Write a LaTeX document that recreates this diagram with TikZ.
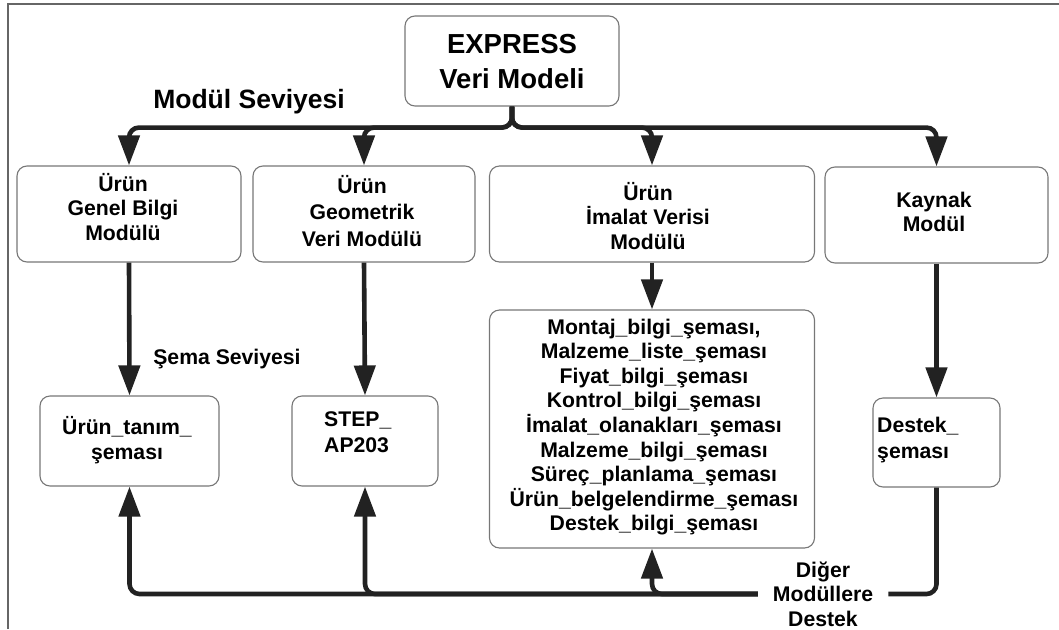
\documentclass[tikz,border=0pt]{standalone}
\usepackage{fontspec}
\setmainfont{Liberation Sans}
\usetikzlibrary{arrows.meta}
\definecolor{ink}{HTML}{222222}
\definecolor{boxline}{HTML}{777777}
\definecolor{framegray}{HTML}{666666}
\begin{document}
\begin{tikzpicture}[x=1pt,y=-1pt,
  box/.style={draw=boxline, line width=1.1pt, rounded corners=10pt, inner sep=0pt},
  txt/.style={align=center, inner sep=0pt, text=black,
    font=\fontsize{21.2}{24.4}\selectfont\bfseries},
  ltxt/.style={txt, align=left, anchor=west},
  bus/.style={draw=ink, line width=4.6pt, rounded corners=10pt},
  tip/.style={-{Triangle[length=30pt,width=21pt]}}]
\useasboundingbox (0,0) rectangle (1059,629);
% outer frame (top and left edges)
\draw[framegray, line width=2pt] (8,629) -- (8,4) -- (1059,4);

% top: data model
\node[box, minimum width=214pt, minimum height=90pt] (ex) at (512,61) {};
\node[txt, font=\fontsize{27.5}{35}\selectfont\bfseries] (ext) at (512,62) {EXPRESS\\Veri Modeli};
\node[txt, font=\fontsize{26.5}{30}\selectfont\bfseries] (modlev) at (249,102) {Modül Seviyesi};

% module level
\node[box, minimum width=224pt, minimum height=96pt] (b1) at (129,214) {};
\node[box, minimum width=222pt, minimum height=96pt] (b2) at (364,214) {};
\node[box, minimum width=325pt, minimum height=96pt] (b3) at (652,214) {};
\node[box, minimum width=223pt, minimum height=96pt] (b4) at (936.5,215) {};
\node[txt] (b1t) at (123,207) {Ürün\\Genel Bilgi\\Modülü};
\node[txt, font=\fontsize{21.2}{26.5}\selectfont\bfseries] (b2t) at (362,211) {Ürün\\Geometrik\\Veri Modülü};
\node[txt] (b3t) at (648,216) {Ürün\\İmalat Verisi\\Modülü};
\node[txt] (b4t) at (934,212) {Kaynak\\Modül};

% schema level
\node[txt] (schlev) at (227,359) {Şema Seviyesi};
\node[box, minimum width=179pt, minimum height=90pt] (b5) at (129.5,441) {};
\node[box, minimum width=146pt, minimum height=90pt] (b6) at (365,441) {};
\node[box, minimum width=325pt, minimum height=238pt] (b7) at (652,429) {};
\node[box, minimum width=127pt, minimum height=89pt] (b8) at (936.5,442.5) {};
\node[txt] (b5t) at (127,440) {Ürün\_tanım\_\\şeması};
\node[ltxt, font=\fontsize{21.2}{26}\selectfont\bfseries] (b6t) at (324,432) {STEP\_\\AP203};
\node[txt, font=\fontsize{21.2}{24.6}\selectfont\bfseries] (b7t) at (654,427) {Montaj\_bilgi\_şeması,\\Malzeme\_liste\_şeması\\Fiyat\_bilgi\_şeması\\Kontrol\_bilgi\_şeması\\İmalat\_olanakları\_şeması\\Malzeme\_bilgi\_şeması\\Süreç\_planlama\_şeması\\Ürün\_belgelendirme\_şeması\\Destek\_bilgi\_şeması};
\node[ltxt, font=\fontsize{21.2}{26}\selectfont\bfseries] (b8t) at (877,440) {Destek\_\\şeması};

% support label on the lower bus
\node[txt, inner xsep=15pt] (sup) at (823,594) {Diğer\\Modüllere\\Destek};

% module-level bus
\draw[bus, tip] (ex.south) -- ++(0,21) -| (b1.north);
\draw[bus, tip] (ex.south) -- ++(0,21) -| (b2.north);
\draw[bus, tip] (ex.south) -- ++(0,21) -| (b3.north);
\draw[bus, tip] (ex.south) -- ++(0,21) -| (b4.north);

% module to schema
\draw[bus, tip] (b1.south) -- (b5.north);
\draw[bus, tip] (b2.south) -- (b6.north);
\draw[bus, tip] (b3.south) -- (b7.north);
\draw[bus, tip] (b4.south) -- (b8.north);

% support bus
\draw[bus] (b8.south) |- (sup.east);
\draw[bus, tip] (sup.west) -| (b7.south);
\draw[bus, tip] (sup.west) -| (b6.south);
\draw[bus, tip] (sup.west) -| (b5.south);
\end{tikzpicture}
\end{document}
